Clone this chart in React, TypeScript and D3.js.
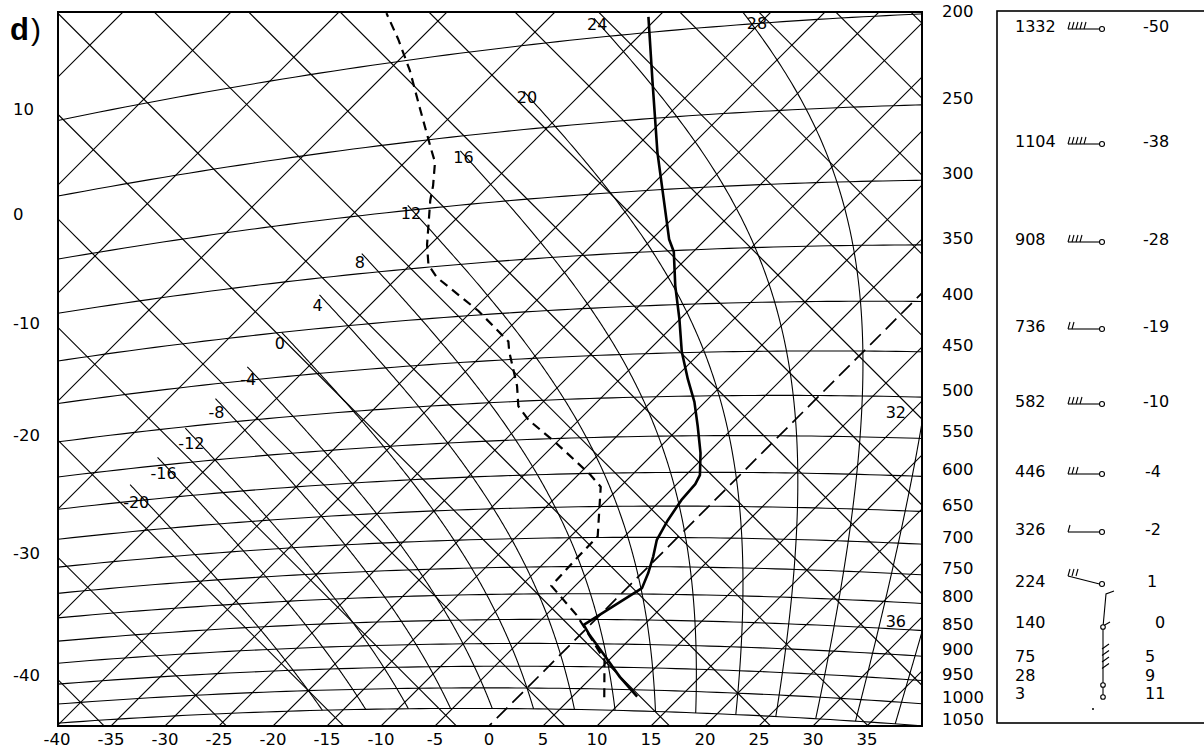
import React from 'react';
import * as d3 from 'd3';

// ---- page and plot frame ----
const W = 1204;
const H = 754;
const frame = { left: 58, right: 922, top: 12, bottom: 726 };

// ---- tephigram geometry ----
// isotherms are lines x + y = const, dry adiabats are lines x − y = const
const T_ORIGIN = 1215;     // x + y of the 0 °C isotherm
const PX_PER_DEG = 10.8;   // change of x + y per °C
const TH_ORIGIN = -161;    // x − y of the θ = 0 °C dry adiabat
const PX_PER_LNTH = 2910;  // change of x − y per unit of ln θ
const KAPPA = 0.29;

// ---- reference lines ----
const ISOBARS = [200, 250, 300, 350, 400, 450, 500, 550, 600, 650, 700, 750, 800, 850, 900, 950, 1000, 1050];
const BOTTOM_TICKS = [-40, -35, -30, -25, -20, -15, -10, -5, 0, 5, 10, 15, 20, 25, 30, 35];
const THETA_TICKS = [10, 0, -10, -20, -30, -40];
const WARM_ISOTHERMS = [-40, -35, -30, -25, -20, -15, -10, -5, 5, 10, 15, 20, 25, 30, 35, 40];
const COLD_ISOTHERMS = [-110, -100, -90, -80, -70, -60, -50];
const FREEZING = [0];
const DRY_ADIABATS = [-50, -40, -30, -20, -10, 0, 10, 20, 30, 40, 50, 60, 70, 80, 90, 100, 110, 120, 130];
const MOIST_ADIABATS = [-20, -16, -12, -8, -4, 0, 4, 8, 12, 16, 20, 24, 28, 32, 36];
const MOIST_TOP_C = -55.5;
const VAPOUR_FACTOR = 0.945; // moisture weighting used for the saturated adiabats

// ---- sounding ----
const TEMP_P = [1016, 972, 924, 882, 861, 789, 762, 732, 704, 672, 641, 617, 604, 573, 538, 507, 480, 449, 414, 382, 351, 340, 273, 227, 192];
const TEMP_C = [11.0, 7.6, 4.1, 0.9, -0.6, 1.4, 0.6, -0.5, -1.7, -2.5, -3.1, -3.3, -3.7, -5.7, -8.4, -11.0, -13.7, -16.8, -20.1, -23.5, -26.8, -28.4, -37.5, -44.6, -50.9];
const DEW_P = [1019, 935, 884, 841, 785, 740, 698, 620, 601, 556, 524, 506, 481, 441, 430, 396, 360, 348, 330, 294, 283, 266, 257, 229, 206, 188, 174];
const DEW_C = [8.0, 4.6, 1.0, -2.2, -7.2, -7.4, -7.5, -11.8, -14.0, -20.0, -24.7, -26.9, -28.9, -32.8, -33.8, -39.4, -46.4, -48.3, -50.3, -54.1, -55.2, -57.2, -58.7, -63.6, -68.0, -72.0, -75.5];

// ---- side table: height, wind, temperature ----
const PANEL_HGT = ['1332', '1104', '908', '736', '582', '446', '326', '224', '140', '75', '28', '3'];
const PANEL_TMP = ['-50', '-38', '-28', '-19', '-10', '-4', '-2', '1', '0', '5', '9', '11'];
const BARB_TICKS = [5, 5, 4, 2, 4, 3, 1, 3];
const LOW_BARB_TICKS = 4;

// side table layout
const ROW_BASE = [32, 147, 245, 332, 407, 477, 535, 587, 628, 662, 681, 699];
const TMP_BASE = [32, 147, 245, 332, 407, 477, 535, 587, 628, 662, 681, 699];
const TMP_X = [1143, 1143, 1143, 1143, 1143, 1145, 1145, 1147, 1155, 1145, 1145, 1145];

const FONT = "'DejaVu Sans', 'Liberation Sans', sans-serif";

// pseudo-adiabatic lapse rate dT/dp (K per hPa)
const Rd = 287.04, CP = 1005.7, LV = 2.501e6, EPS = 0.622;
function dTdp(T: number, p: number): number {
  const es = 6.112 * Math.exp((17.67 * (T - 273.15)) / (T - 29.65));
  const rs = VAPOUR_FACTOR * (EPS * es) / (p - es);
  const num = Rd * T + LV * rs;
  const den = CP + (LV * LV * rs * EPS) / (Rd * T * T);
  return num / (den * p);
}
function rk4(T: number, p: number, dp: number): number {
  const k1 = dTdp(T, p);
  const k2 = dTdp(T + (dp / 2) * k1, p + dp / 2);
  const k3 = dTdp(T + (dp / 2) * k2, p + dp / 2);
  const k4 = dTdp(T + dp * k3, p + dp);
  return T + (dp / 6) * (k1 + 2 * k2 + 2 * k3 + k4);
}

export default function App() {
  const isoScale = d3.scaleLinear().domain([0, 1]).range([T_ORIGIN, T_ORIGIN + PX_PER_DEG]);
  const thetaScale = d3.scaleLinear().domain([0, 1]).range([TH_ORIGIN, TH_ORIGIN + PX_PER_LNTH]);
  const lnTheta = (thC: number) => Math.log((thC + 273.15) / 273.15);

  const toXY = (T: number, p: number): [number, number] => {
    const s = isoScale(T);
    const d = thetaScale(lnTheta(T) + KAPPA * Math.log(1000 / p));
    return [(s + d) / 2, (s - d) / 2];
  };

  const line = d3.line<[number, number]>();
  const yA = frame.top - 20;
  const yB = frame.bottom + 20;

  const isothermPath = (T: number) => {
    const s = isoScale(T);
    return line([[s - yA, yA], [s - yB, yB]]) as string;
  };
  const dryPath = (th: number) => {
    const d = thetaScale(lnTheta(th));
    return line([[yA + d, yA], [yB + d, yB]]) as string;
  };
  const isobarPts = (p: number) => d3.range(-130, 61, 1).map((T) => toXY(T, p));

  // saturated adiabats integrated from 1050 hPa upward
  const inside = ([x, y]: [number, number]) =>
    x >= frame.left && x <= frame.right && y >= frame.top && y <= frame.bottom + 6;

  const moist = MOIST_ADIABATS.map((thw) => {
    let T = thw + 273.15;
    let p = 1000;
    while (p < 1050) { T = rk4(T, p, 2); p += 2; }
    const pts: [number, number][] = [toXY(T - 273.15, p)];
    let reason = 'cold';
    let label: { x: number; y: number; anchor: string } | null = null;
    while (p > 100) {
      T = rk4(T, p, -2);
      p -= 2;
      const pt = toXY(T - 273.15, p);
      if (!inside(pt)) {
        const prev = pts[pts.length - 1];
        pts.push(pt);
        if (pt[1] < frame.top) {
          const f = (prev[1] - frame.top) / (prev[1] - pt[1]);
          const cx = prev[0] + f * (pt[0] - prev[0]);
          reason = 'top';
          label = { x: cx + 4, y: frame.top + 17, anchor: 'start' };
        } else {
          const f = (frame.right - prev[0]) / (pt[0] - prev[0]);
          const cy = prev[1] + f * (pt[1] - prev[1]);
          reason = 'right';
          label = { x: frame.right - 16, y: cy - 5, anchor: 'end' };
        }
        break;
      }
      pts.push(pt);
      if (T - 273.15 < MOIST_TOP_C) break;
    }
    if (reason === 'cold') {
      const last = pts[pts.length - 1];
      const dy = Math.max(12, 17 - 0.3 * thw);
      label = { x: last[0] - 7, y: last[1] + dy, anchor: 'start' };
    }
    return { thw, d: line(pts) as string, label: label! };
  });

  const tempPts = TEMP_P.map((p, i) => toXY(TEMP_C[i], p));
  const dewPts = DEW_P.map((p, i) => toXY(DEW_C[i], p));

  const isobarRightY = (p: number) => {
    const pts = isobarPts(p);
    for (let i = 1; i < pts.length; i++) {
      if (pts[i][0] >= frame.right) {
        const a = pts[i - 1], b = pts[i];
        const f = (frame.right - a[0]) / (b[0] - a[0]);
        return a[1] + f * (b[1] - a[1]);
      }
    }
    return pts[pts.length - 1][1];
  };

  // wind barbs of the side table
  const BX = 1102; // station circle x
  const barbs = BARB_TICKS.map((n, i) => {
    const cy = ROW_BASE[i] - 3;
    const x0 = 1068;
    const y0 = i === 7 ? cy - 8 : cy;
    const ticks = d3.range(n).map((k) => {
      const tx = x0 + k * 4;
      return line([[tx, y0], [tx + 2, y0 - 7]]) as string;
    });
    return { cy, shaft: line([[x0, y0], [BX - 2.5, cy]]) as string, ticks };
  });
  const lowTop = ROW_BASE[7] + 6;

  return (
    <svg width={W} height={H} style={{ position: 'absolute', left: 0, top: 0, background: '#fff' }}
      fontFamily={FONT}>
      <defs>
        <clipPath id="plotArea">
          <rect x={frame.left} y={frame.top} width={frame.right - frame.left} height={frame.bottom - frame.top} />
        </clipPath>
      </defs>
      <rect width={W} height={H} fill="#fff" />

      <g clipPath="url(#plotArea)" fill="none" stroke="#000">
        {[...COLD_ISOTHERMS, ...WARM_ISOTHERMS].map((T) => (
          <path key={'t' + T} d={isothermPath(T)} strokeWidth={1.15} />
        ))}
        {DRY_ADIABATS.map((th) => (
          <path key={'th' + th} d={dryPath(th)} strokeWidth={1.15} />
        ))}
        {ISOBARS.map((p) => (
          <path key={'p' + p} d={line(isobarPts(p)) as string} strokeWidth={1.1} />
        ))}
        {moist.map((m) => (
          <path key={'m' + m.thw} d={m.d} strokeWidth={1.1} />
        ))}
        {FREEZING.map((T) => (
          <path key={'f' + T} d={isothermPath(T)} strokeWidth={1.7} strokeDasharray="15 7" />
        ))}
        <path d={line(dewPts) as string} strokeWidth={2.2} strokeDasharray="9 6" />
        <path d={line(tempPts) as string} strokeWidth={2.6} strokeLinejoin="round" />
      </g>

      <rect x={frame.left} y={frame.top} width={frame.right - frame.left} height={frame.bottom - frame.top}
        fill="none" stroke="#000" strokeWidth={2} />

      {/* saturated adiabat labels */}
      <g fontSize={16} fill="#000">
        {moist.map((m) => (
          <text key={'ml' + m.thw} x={m.label.x} y={m.label.y} textAnchor={m.label.anchor as any}>
            {String(m.thw)}
          </text>
        ))}
      </g>

      {/* temperature along the bottom */}
      <g fontSize={16.5} fill="#000" textAnchor="middle">
        {BOTTOM_TICKS.map((T) => (
          <text key={'bt' + T} x={isoScale(T) - frame.bottom} y={745}>{String(T)}</text>
        ))}
      </g>

      {/* potential temperature on the left edge */}
      <g fontSize={16.5} fill="#000">
        {THETA_TICKS.map((th) => (
          <text key={'lt' + th} x={13} y={frame.left - thetaScale(lnTheta(th)) + 1}>{String(th)}</text>
        ))}
      </g>

      {/* pressure on the right edge */}
      <g fontSize={16.5} fill="#000">
        {ISOBARS.map((p) => (
          <text key={'rp' + p} x={942} y={Math.max(17, isobarRightY(p) - 1)}>{String(p)}</text>
        ))}
      </g>

      {/* panel letter */}
      <text x={10} y={40} fontSize={31} fontWeight="bold" fontFamily="'Liberation Sans', Arial, sans-serif">d</text>
      <text x={31} y={40} fontSize={30} fontFamily="'Liberation Sans', Arial, sans-serif">)</text>

      {/* side table */}
      <rect x={997} y={11} width={230} height={712} fill="none" stroke="#000" strokeWidth={1.6} />
      <g fontSize={16} fill="#000">
        {PANEL_HGT.map((h, i) => (
          <text key={'h' + i} x={1015} y={ROW_BASE[i]}>{h}</text>
        ))}
        {PANEL_TMP.map((t, i) => (
          <text key={'tt' + i} x={TMP_X[i]} y={TMP_BASE[i]}>{t}</text>
        ))}
      </g>
      <g fill="none" stroke="#000" strokeWidth={1.1}>
        {barbs.map((b, i) => (
          <g key={'b' + i}>
            <path d={b.shaft} />
            {b.ticks.map((t, k) => <path key={k} d={t} />)}
            <circle cx={BX} cy={b.cy} r={2.5} fill="#fff" />
          </g>
        ))}
        {/* low-level winds */}
        <path d={line([[1114, lowTop - 2], [1106, lowTop + 1], [1103, ROW_BASE[8] - 1], [1103, 697]]) as string} />
        <path d={line([[1103, ROW_BASE[8] - 2], [1110, ROW_BASE[8] - 6]]) as string} />
        {d3.range(LOW_BARB_TICKS).map((k) => (
          <path key={'lb' + k} d={line([[1102, 649 + k * 6.5], [1109, 644 + k * 6.5]]) as string} />
        ))}
        <circle cx={1103} cy={ROW_BASE[8] - 1} r={2.3} fill="#fff" />
        <circle cx={1103} cy={685} r={2.3} fill="#fff" />
        <circle cx={1103} cy={697} r={2.3} fill="#fff" />
      </g>
      <circle cx={1093} cy={709} r={1} fill="#000" />
    </svg>
  );
}
